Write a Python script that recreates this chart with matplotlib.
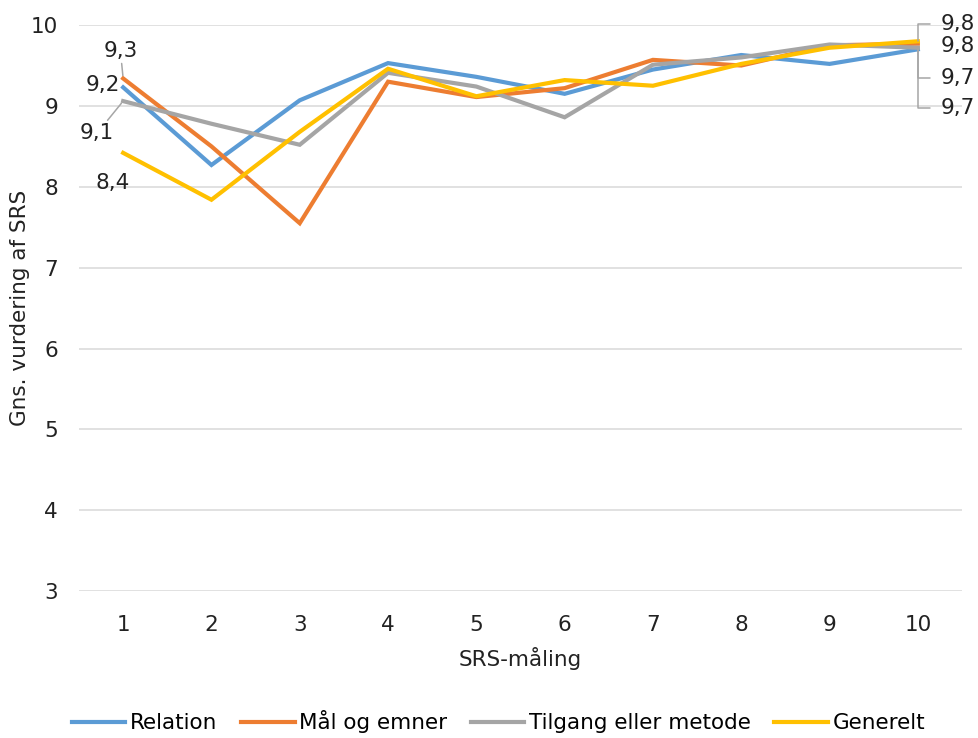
import numpy as np
import matplotlib
matplotlib.use('Agg')
import matplotlib.pyplot as plt

# data
maalinger = [1, 2, 3, 4, 5, 6, 7, 8, 9, 10]
relation = [9.23, 8.27, 9.07, 9.53, 9.36, 9.15, 9.45, 9.63, 9.52, 9.70]
maal_emner = [9.34, 8.50, 7.55, 9.30, 9.11, 9.22, 9.57, 9.50, 9.75, 9.77]
tilgang = [9.06, 8.78, 8.52, 9.41, 9.24, 8.86, 9.51, 9.60, 9.76, 9.72]
generelt = [8.42, 7.84, 8.68, 9.46, 9.12, 9.32, 9.25, 9.52, 9.72, 9.80]

navne = ['Relation', 'Mål og emner', 'Tilgang eller metode', 'Generelt']
farver = ['#5B9BD5', '#ED7D31', '#A5A5A5', '#FFC000']
serier = [relation, maal_emner, tilgang, generelt]

fs = 15.5
plt.rcParams['font.family'] = 'DejaVu Sans'

fig = plt.figure(figsize=(9.79, 7.38), dpi=100)
ax = fig.add_axes([0.0807, 0.199, 0.9019, 0.767])

for y, navn, farve in zip(serier, navne, farver):
    ax.plot(maalinger, y, color=farve, lw=3.0, label=navn, solid_joinstyle='miter')

ax.set_xlim(0.5, 10.5)
ax.set_ylim(3, 10)
ax.set_xticks(maalinger)
ax.set_yticks(range(3, 11))
ax.grid(True, axis='y', color='#D9D9D9', lw=1.1)
ax.set_axisbelow(True)
for s in ax.spines.values():
    s.set_visible(False)
ax.tick_params(length=0, labelsize=fs, colors='#222222')
ax.tick_params(axis='x', pad=17)
ax.tick_params(axis='y', pad=15)
ax.set_xlabel('SRS-måling', fontsize=fs, labelpad=9, color='#222222')
ax.set_ylabel('Gns. vurdering af SRS', fontsize=fs, labelpad=1, color='#222222')


def fmt(v):
    return f'{v:.1f}'.replace('.', ',')


leder = dict(arrowstyle='-', color='#A6A6A6', lw=1.1, shrinkA=0, shrinkB=2)

# labels ved foerste maaling
venstre = [(relation, (-15, 1.4), False),
           (maal_emner, (-2, 20), True),
           (tilgang, (-18.7, -23), True),
           (generelt, (-7.2, -21.6), False)]
for y, off, med_linje in venstre:
    ax.annotate(fmt(y[0]), xy=(maalinger[0], y[0]), xytext=off,
                textcoords='offset points', ha='center', va='center',
                fontsize=fs, color='#222222',
                arrowprops=leder if med_linje else None)

# labels ved sidste maaling
hoejre = [(generelt, 12.2, True),
          (maal_emner, -1.9, False),
          (tilgang, -21.6, True),
          (relation, -42.5, True)]
for y, dy, med_linje in hoejre:
    ap = None
    if med_linje:
        ap = dict(arrowstyle='-', color='#A6A6A6', lw=1.1, shrinkA=6, shrinkB=0,
                  relpos=(0, 0.5),
                  connectionstyle='angle,angleA=0,angleB=90,rad=0')
    ax.annotate(fmt(y[-1]), xy=(maalinger[-1], y[-1]), xytext=(16.5, dy),
                textcoords='offset points', ha='left', va='center',
                fontsize=fs, color='#222222', annotation_clip=False,
                arrowprops=ap)

fig.legend(loc='center', bbox_to_anchor=(0.509, 0.022), ncol=4, frameon=False,
           fontsize=fs, handlelength=2.5, handletextpad=0.2, columnspacing=1.1)

fig.savefig('out.png', dpi=100)
